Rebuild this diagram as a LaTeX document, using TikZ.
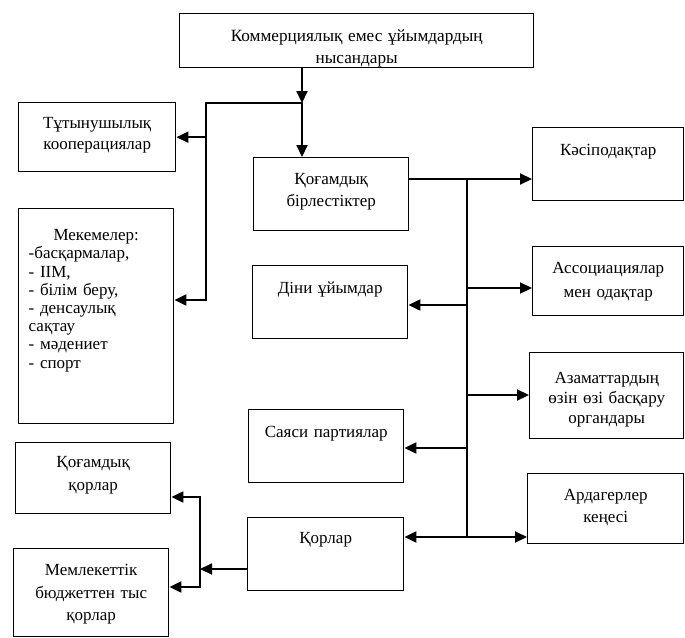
\documentclass[tikz,border=0pt]{standalone}
\usepackage{fontspec}
\setmainfont{Liberation Serif}
\usetikzlibrary{arrows.meta}

\begin{document}
\begin{tikzpicture}[x=1pt, y=-1pt, line width=1.4pt,
box/.style = {draw, anchor=north west, inner sep=0pt, align=center,
  font=\fontsize{17}{21.5}\selectfont, text height=27pt},
wire/.style = {line width=2.1pt, line cap=rect},
arr/.style = {line width=2.1pt, -{Triangle[length=12pt,width=11pt]}},
arrboth/.style = {line width=2.1pt, {Triangle[length=12pt,width=11pt]}-{Triangle[length=12pt,width=11pt]}}]
    \useasboundingbox (0,0) rectangle (685,637);

    \node[box, text width=354pt, text height=28pt, text depth=26pt, font=\fontsize{17.2}{22}\selectfont] (forms) at (179,13) {Коммерциялық емес ұйымдардың\\ нысандары};

    \node[box, text width=157pt, text height=26pt, text depth=43pt, font=\fontsize{17}{20.5}\selectfont] (tutyn) at (18,102) {Тұтынушылық\\ кооперациялар};
    \node[box, text width=135pt, inner xsep=10pt, text height=32pt, text depth=183pt, align=left, font=\fontsize{17}{18.2}\selectfont] (mek) at (18,208) {\hfill Мекемелер:\hfill\mbox{}\\ -басқармалар,\\ - ІІМ,\\ - білім беру,\\ - денсаулық\\ сақтау\\ - мәдениет\\ - спорт};
    \node[box, text width=155pt, text height=25pt, text depth=46pt, font=\fontsize{17}{23}\selectfont] (qogqor) at (15,442) {Қоғамдық\\ қорлар};
    \node[box, text width=155pt, text depth=61pt, font=\fontsize{17}{22.5}\selectfont] (memleket) at (13,548) {Мемлекеттік\\ бюджеттен тыс\\ қорлар};

    \node[box, text width=155pt, text depth=46pt] (qogbir) at (253,157) {Қоғамдық\\ бірлестіктер};
    \node[box, text width=155pt, text height=28pt, text depth=45pt] (dini) at (252,265) {Діни ұйымдар};
    \node[box, text width=155pt, text height=28pt, text depth=45pt] (sayasi) at (248,409) {Саяси партиялар};
    \node[box, text width=156pt, text height=26pt, text depth=47pt] (qorlar) at (247,517) {Қорлар};

    \node[box, text width=151pt, text height=28pt, text depth=45pt] (kasip) at (532,127) {Кәсіподақтар};
    \node[box, text width=151pt, text depth=42pt, font=\fontsize{17}{24}\selectfont] (assoc) at (532,246) {Ассоциациялар\\ мен одақтар};
    \node[box, text width=154pt, text height=31pt, text depth=55pt, font=\fontsize{17}{20}\selectfont] (azamat) at (529,352) {Азаматтардың\\ өзін өзі басқару\\ органдары};
    \node[box, text width=156pt, text depth=43pt] (arda) at (527,473) {Ардагерлер\\ кеңесі};

    % junctions
    \coordinate (j1) at (302,103);
    \coordinate (j2) at (206,103);
    \coordinate (j3) at (206,300);
    \coordinate (t1) at (467,179);
    \coordinate (ta) at (467,288);
    \coordinate (td) at (467,305);
    \coordinate (tz) at (467,395);
    \coordinate (ts) at (467,448);
    \coordinate (t2) at (467,537);
    \coordinate (k1) at (200,569);
    \coordinate (k2) at (200,497);
    \coordinate (k3) at (200,587);

    \draw[arr] (forms.south -| j1) -- (j1);
    \draw[arr] (j1) -- (j1 |- qogbir.north);
    \draw[wire] (j1) -- (j2) -- (j3);
    \draw[arr] (j2 |- tutyn.east) -- (tutyn.east);
    \draw[arr] (j3) -- (j3 -| mek.east);

    \draw[arr] (qogbir.east |- t1) -- (t1 -| kasip.west);
    \draw[wire] (t1) -- (t2);
    \draw[arr] (ta) -- (ta -| assoc.west);
    \draw[arr] (td) -- (td -| dini.east);
    \draw[arr] (tz) -- (tz -| azamat.west);
    \draw[arr] (ts) -- (ts -| sayasi.east);
    \draw[arrboth] (t2 -| qorlar.east) -- (t2 -| arda.west);

    \draw[arr] (k1 -| qorlar.west) -- (k1);
    \draw[wire] (k2) -- (k3);
    \draw[arr] (k2) -- (k2 -| qogqor.east);
    \draw[arr] (k3) -- (k3 -| memleket.east);
\end{tikzpicture}
\end{document}
